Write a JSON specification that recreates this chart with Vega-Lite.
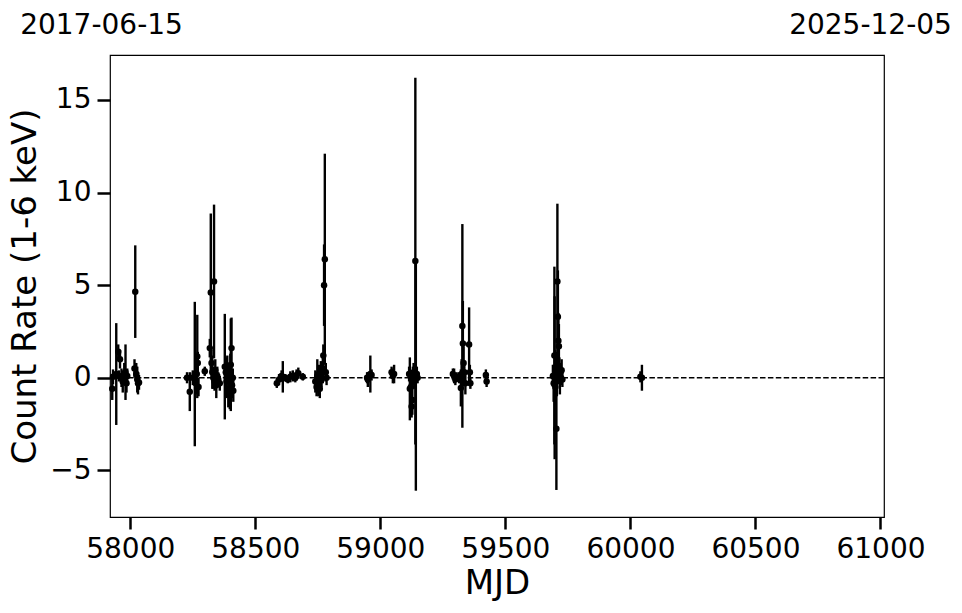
{
  "$schema": "https://vega.github.io/schema/vega-lite/v6.json",
  "autosize": {"type": "none"},
  "padding": {"left": 110, "top": 55, "right": 78, "bottom": 96},
  "width": 774,
  "height": 462,
  "background": "white",
  "config": {
    "font": "DejaVu Sans",
    "view": {"stroke": "black", "strokeWidth": 1.2},
    "axis": {
      "labelFont": "DejaVu Sans", "titleFont": "DejaVu Sans",
      "labelColor": "black", "titleColor": "black", "tickColor": "black",
      "labelFontSize": 28, "titleFontSize": 34, "titleFontWeight": "normal",
      "grid": false, "domain": false, "tickWidth": 2.5, "tickSize": 12
    }
  },
  "datasets": {
    "lc": [
      {"mjd": 57928, "rate": -0.6, "err": 0.6},
      {"mjd": 57931, "rate": 0.05, "err": 0.4},
      {"mjd": 57944, "rate": 0.2, "err": 2.75},
      {"mjd": 57952, "rate": 1.4, "err": 0.4},
      {"mjd": 57955, "rate": 0.1, "err": 0.3},
      {"mjd": 57959, "rate": 1.0, "err": 0.5},
      {"mjd": 57965, "rate": 0.0, "err": 0.5},
      {"mjd": 57970, "rate": -0.2, "err": 0.6},
      {"mjd": 57976, "rate": 0.2, "err": 0.6},
      {"mjd": 57981, "rate": 0.3, "err": 1.5},
      {"mjd": 57985, "rate": -0.3, "err": 0.5},
      {"mjd": 57988, "rate": 0.1, "err": 0.4},
      {"mjd": 58017, "rate": 0.5, "err": 0.5},
      {"mjd": 58020, "rate": 4.65, "err": 2.5},
      {"mjd": 58024, "rate": 0.2, "err": 0.6},
      {"mjd": 58028, "rate": -0.1, "err": 0.7},
      {"mjd": 58031, "rate": -0.3, "err": 0.6},
      {"mjd": 58035, "rate": -0.25, "err": 0.4},
      {"mjd": 58227, "rate": 0.0, "err": 0.3},
      {"mjd": 58238, "rate": -0.75, "err": 1.05},
      {"mjd": 58250, "rate": 0.0, "err": 0.4},
      {"mjd": 58258, "rate": 0.2, "err": 3.9},
      {"mjd": 58262, "rate": -0.3, "err": 0.6},
      {"mjd": 58266, "rate": 0.2, "err": 0.5},
      {"mjd": 58268, "rate": 1.15, "err": 2.25},
      {"mjd": 58270, "rate": 0.8, "err": 0.6},
      {"mjd": 58273, "rate": -0.5, "err": 0.5},
      {"mjd": 58298, "rate": 0.35, "err": 0.25},
      {"mjd": 58318, "rate": 1.6, "err": 0.5},
      {"mjd": 58322, "rate": 4.6, "err": 4.27},
      {"mjd": 58325, "rate": 0.8, "err": 0.7},
      {"mjd": 58328, "rate": 0.3, "err": 0.9},
      {"mjd": 58332, "rate": 0.0, "err": 0.6},
      {"mjd": 58335, "rate": 5.2, "err": 4.15},
      {"mjd": 58337, "rate": -0.2, "err": 0.5},
      {"mjd": 58340, "rate": 0.4, "err": 0.6},
      {"mjd": 58344, "rate": -0.4, "err": 0.7},
      {"mjd": 58348, "rate": 0.1, "err": 0.5},
      {"mjd": 58352, "rate": -0.1, "err": 0.4},
      {"mjd": 58358, "rate": -0.3, "err": 0.4},
      {"mjd": 58378, "rate": 0.6, "err": 2.85},
      {"mjd": 58382, "rate": 0.3, "err": 0.8},
      {"mjd": 58385, "rate": -0.2, "err": 0.9},
      {"mjd": 58388, "rate": 0.5, "err": 0.7},
      {"mjd": 58392, "rate": -0.6, "err": 1.0},
      {"mjd": 58395, "rate": 0.1, "err": 0.6},
      {"mjd": 58398, "rate": -0.9, "err": 0.8},
      {"mjd": 58400, "rate": 0.2, "err": 1.1},
      {"mjd": 58402, "rate": 0.7, "err": 2.5},
      {"mjd": 58405, "rate": 1.6, "err": 1.65},
      {"mjd": 58407, "rate": -0.4, "err": 0.7},
      {"mjd": 58410, "rate": 0.0, "err": 0.5},
      {"mjd": 58412, "rate": -0.7, "err": 0.6},
      {"mjd": 58586, "rate": -0.3, "err": 0.25},
      {"mjd": 58595, "rate": -0.1, "err": 0.3},
      {"mjd": 58605, "rate": 0.1, "err": 0.3},
      {"mjd": 58610, "rate": 0.05, "err": 0.85},
      {"mjd": 58620, "rate": 0.0, "err": 0.2},
      {"mjd": 58630, "rate": -0.1, "err": 0.2},
      {"mjd": 58640, "rate": 0.05, "err": 0.3},
      {"mjd": 58650, "rate": 0.1, "err": 0.3},
      {"mjd": 58660, "rate": 0.0, "err": 0.25},
      {"mjd": 58665, "rate": 0.15, "err": 0.3},
      {"mjd": 58672, "rate": 0.25, "err": 0.3},
      {"mjd": 58690, "rate": 0.05, "err": 0.2},
      {"mjd": 58740, "rate": -0.2, "err": 0.6},
      {"mjd": 58745, "rate": -0.5, "err": 0.5},
      {"mjd": 58748, "rate": 0.1, "err": 0.9},
      {"mjd": 58752, "rate": -0.3, "err": 0.7},
      {"mjd": 58755, "rate": 0.2, "err": 0.5},
      {"mjd": 58758, "rate": -0.6, "err": 0.5},
      {"mjd": 58762, "rate": 0.3, "err": 0.6},
      {"mjd": 58765, "rate": -0.1, "err": 0.4},
      {"mjd": 58770, "rate": 0.5, "err": 0.8},
      {"mjd": 58772, "rate": 1.2, "err": 0.6},
      {"mjd": 58775, "rate": 5.0, "err": 2.2},
      {"mjd": 58778, "rate": 6.4, "err": 5.7},
      {"mjd": 58782, "rate": 0.3, "err": 0.5},
      {"mjd": 58785, "rate": 0.0, "err": 0.4},
      {"mjd": 58947, "rate": 0.0, "err": 0.3},
      {"mjd": 58950, "rate": -0.1, "err": 0.4},
      {"mjd": 58960, "rate": 0.2, "err": 1.0},
      {"mjd": 58965, "rate": 0.15, "err": 0.3},
      {"mjd": 59045, "rate": 0.3, "err": 0.3},
      {"mjd": 59050, "rate": 0.1, "err": 0.4},
      {"mjd": 59055, "rate": 0.2, "err": 0.5},
      {"mjd": 59115, "rate": 0.2, "err": 0.4},
      {"mjd": 59118, "rate": -0.6, "err": 1.7},
      {"mjd": 59122, "rate": -0.5, "err": 0.6},
      {"mjd": 59125, "rate": -1.55, "err": 0.6},
      {"mjd": 59128, "rate": -1.2, "err": 0.8},
      {"mjd": 59130, "rate": 0.1, "err": 0.5},
      {"mjd": 59133, "rate": 0.3, "err": 0.5},
      {"mjd": 59136, "rate": -0.2, "err": 0.4},
      {"mjd": 59140, "rate": 6.3, "err": 9.9},
      {"mjd": 59142, "rate": 0.1, "err": 6.2},
      {"mjd": 59146, "rate": 0.2, "err": 0.4},
      {"mjd": 59149, "rate": 0.0, "err": 0.3},
      {"mjd": 59290, "rate": 0.2, "err": 0.3},
      {"mjd": 59295, "rate": 0.1, "err": 0.4},
      {"mjd": 59300, "rate": -0.1, "err": 0.3},
      {"mjd": 59305, "rate": 0.05, "err": 0.25},
      {"mjd": 59315, "rate": 0.0, "err": 0.3},
      {"mjd": 59322, "rate": -0.55, "err": 1.0},
      {"mjd": 59325, "rate": 0.2, "err": 0.8},
      {"mjd": 59328, "rate": 2.8, "err": 5.5},
      {"mjd": 59330, "rate": 1.85, "err": 2.3},
      {"mjd": 59333, "rate": 0.8, "err": 0.9},
      {"mjd": 59336, "rate": 0.3, "err": 0.6},
      {"mjd": 59340, "rate": -0.3, "err": 0.6},
      {"mjd": 59355, "rate": 1.8, "err": 2.0},
      {"mjd": 59358, "rate": 0.3, "err": 0.4},
      {"mjd": 59360, "rate": -0.3, "err": 0.3},
      {"mjd": 59422, "rate": 0.15, "err": 0.3},
      {"mjd": 59425, "rate": -0.2, "err": 0.3},
      {"mjd": 59690, "rate": 0.1, "err": 0.6},
      {"mjd": 59693, "rate": -0.3, "err": 1.0},
      {"mjd": 59696, "rate": 1.2, "err": 4.8},
      {"mjd": 59697, "rate": 0.0, "err": 4.4},
      {"mjd": 59699, "rate": 0.0, "err": 1.5},
      {"mjd": 59700, "rate": -0.5, "err": 0.8},
      {"mjd": 59702, "rate": 0.3, "err": 0.9},
      {"mjd": 59704, "rate": -2.76, "err": 3.3},
      {"mjd": 59706, "rate": 0.2, "err": 1.2},
      {"mjd": 59708, "rate": 5.2, "err": 4.2},
      {"mjd": 59710, "rate": 3.3, "err": 2.5},
      {"mjd": 59712, "rate": 2.0, "err": 1.5},
      {"mjd": 59714, "rate": 1.7, "err": 1.2},
      {"mjd": 59716, "rate": 0.5, "err": 0.6},
      {"mjd": 59718, "rate": -0.2, "err": 0.7},
      {"mjd": 59720, "rate": 0.3, "err": 0.5},
      {"mjd": 59722, "rate": 0.0, "err": 0.4},
      {"mjd": 59725, "rate": 0.4, "err": 0.6},
      {"mjd": 59728, "rate": -0.1, "err": 0.4},
      {"mjd": 60040, "rate": 0.05, "err": 0.3},
      {"mjd": 60046, "rate": 0.0, "err": 0.7}
    ]
  },
  "resolve": {"axis": {"x": "independent"}},
  "layer": [
    {
      "data": {"values": [{}]},
      "mark": {"type": "rule", "color": "black", "strokeWidth": 1.5, "strokeDash": [5.5, 2.4]},
      "encoding": {"y": {"datum": 0, "type": "quantitative"}}
    },
    {
      "data": {"name": "lc"},
      "mark": {"type": "errorbar", "color": "black", "rule": {"strokeWidth": 2.4, "color": "black"}},
      "encoding": {
        "x": {"field": "mjd", "type": "quantitative", "scale": {"domain": [57919, 61014], "nice": false, "zero": false}, "axis": null},
        "y": {"field": "rate", "type": "quantitative", "scale": {"domain": [-7.52, 17.43], "nice": false, "zero": false},
              "title": "Count Rate (1-6 keV)",
              "axis": {"values": [-5, 0, 5, 10, 15], "tickSize": 13, "labelPadding": 6, "titlePadding": 7}},
        "yError": {"field": "err"}
      }
    },
    {
      "data": {"name": "lc"},
      "mark": {"type": "circle", "color": "black", "opacity": 1, "size": 42},
      "encoding": {
        "x": {"field": "mjd", "type": "quantitative", "scale": {"domain": [57919, 61014], "nice": false, "zero": false},
              "title": "MJD",
              "axis": {"values": [58000, 58500, 59000, 59500, 60000, 60500, 61000], "format": "d", "labelPadding": 6, "titlePadding": 3, "labelFlush": false}},
        "y": {"field": "rate", "type": "quantitative", "scale": {"domain": [-7.52, 17.43], "nice": false, "zero": false},
              "title": "Count Rate (1-6 keV)",
              "axis": {"values": [-5, 0, 5, 10, 15], "tickSize": 13, "labelPadding": 6, "titlePadding": 7}}
      }
    },
    {
      "data": {"name": "lc"},
      "mark": {"type": "point", "opacity": 0},
      "encoding": {
        "x": {"field": "mjd", "type": "quantitative", "scale": {"domain": [57919, 61014], "nice": false, "zero": false},
              "axis": {"orient": "top", "title": null, "values": [57919, 61014], "ticks": false, "tickSize": 0,
                       "labelExpr": "datum.value < 59000 ? '2017-06-15' : '2025-12-05'",
                       "labelPadding": 16, "labelFlush": false, "labelOverlap": false, "labelBound": false,
                       "labelOffset": {"condition": {"test": "datum.value < 59000", "value": -9}, "value": -14}}},
        "y": {"field": "rate", "type": "quantitative"}
      }
    }
  ]
}
